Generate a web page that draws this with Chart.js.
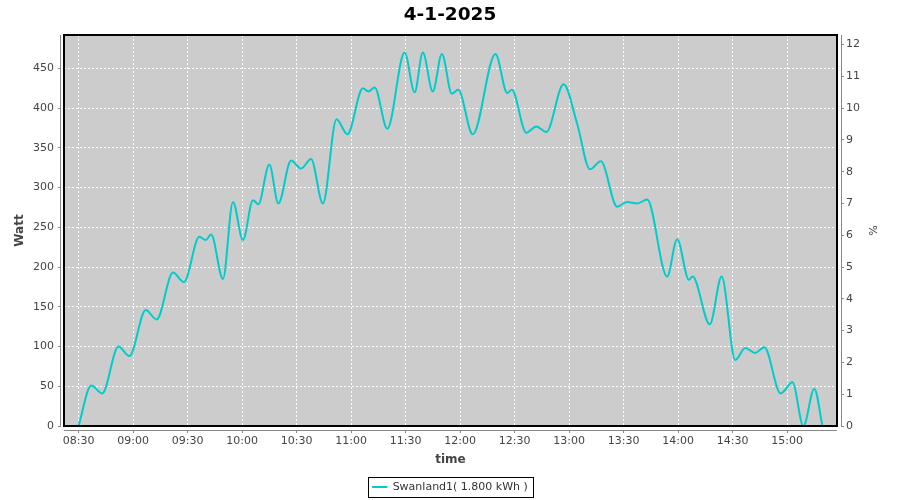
<!DOCTYPE html>
<html>
<head>
<meta charset="utf-8">
<script src="https://cdn.jsdelivr.net/npm/chart.js@4"></script>
<style>
html,body{margin:0;padding:0;background:#ffffff;}
canvas{display:block;}
</style>
</head>
<body>
<canvas id="c" width="900" height="500"></canvas>
<script>
// ---------------- data ----------------
const chartTitle = '4-1-2025';
const seriesName = 'Swanland1( 1.800 kWh )';
const xAxisTitle = 'time';
const yAxisTitle = 'Watt';
const y2AxisTitle = '%';

const times = [
  '08:30:00','08:37:00','08:43:00','08:52:00','08:58:00','09:07:00','09:13:00','09:22:00',
  '09:28:00','09:36:30','09:40:00','09:43:00','09:49:30','09:55:00','10:00:30','10:06:00',
  '10:09:00','10:15:00','10:20:00','10:27:00','10:32:30','10:38:00','10:44:30','10:52:00',
  '10:58:00','11:06:30','11:09:30','11:13:00','11:20:00','11:29:30','11:35:00','11:39:30',
  '11:45:00','11:50:00','11:55:30','11:59:00','12:07:00','12:19:30','12:26:00','12:28:30',
  '12:36:30','12:42:00','12:47:30','12:57:00','13:04:30','13:11:30','13:17:30','13:26:30',
  '13:32:00','13:37:30','13:43:00','13:54:00','13:59:30','14:06:00','14:08:00','14:17:30',
  '14:24:00','14:31:30','14:37:00','14:42:30','14:47:30','14:56:30','15:03:00','15:09:00',
  '15:15:00','15:19:30'
];
const watts = [
  0, 51, 41, 100, 88, 146, 134, 193,
  181, 238, 234, 241, 185, 282, 234, 284,
  279, 329, 280, 334, 324, 336, 280, 386,
  367, 425, 421, 426, 374, 470, 420, 470,
  421, 468, 418, 423, 367, 468, 419, 423,
  369, 377, 370, 430, 380, 323, 333, 276,
  282, 280, 285, 188, 235, 184, 188, 128,
  188, 83, 98, 92, 99, 41, 55, 0,
  47, 0
];

const xRange = ['08:22:00', '15:27:30'];   // visible time span
const xTickStepMin = 30;
const wattMax = 492, wattStep = 50;
const pctMax = 12.3, pctStep = 1;

// ---------------- helpers ----------------
function toMin(s) {
  const p = s.split(':').map(Number);
  return p[0] * 60 + p[1] + (p[2] || 0) / 60;
}
function fmt(m) {
  const h = Math.floor(m / 60), mm = Math.round(m % 60);
  return String(h).padStart(2, '0') + ':' + String(mm).padStart(2, '0');
}
const points = times.map((t, i) => ({ x: toMin(t), y: watts[i] }));

const FONT = 'DejaVu Sans';
const LINE = '#00cccc';
const AXIS = '#888888';
const TXT = '#444444';

const framePlugin = {
  id: 'frame',
  afterLayout(chart) {
    const lg = chart.legend;
    if (lg) { lg.top += 2.5; lg.bottom += 2.5; }
  },
  beforeDraw(chart) {
    const { ctx, chartArea: a } = chart;
    ctx.save();
    ctx.fillStyle = '#cccccc';
    ctx.fillRect(a.left, a.top, a.right - a.left, a.bottom - a.top);
    ctx.restore();
  },
  afterDraw(chart) {
    const { ctx, chartArea: a } = chart;
    const L = Math.round(a.left), R = Math.round(a.right), T = Math.round(a.top), B = Math.round(a.bottom);
    ctx.save();
    // white gaps between axis lines and plot
    ctx.fillStyle = '#ffffff';
    ctx.fillRect(L - 3, T - 1, 2, B - T + 2);
    ctx.fillRect(R + 1, T - 1, 3, B - T + 2);
    ctx.fillRect(L - 1, B + 1, R - L + 2, 3);
    // axis lines
    ctx.fillStyle = AXIS;
    ctx.fillRect(L - 4, T, 1, B - T + 1);
    ctx.fillRect(R + 4, T, 1, B - T + 1);
    ctx.fillRect(L, B + 4, R - L, 1);
    // plot border
    ctx.strokeStyle = '#000000';
    ctx.lineWidth = 2;
    ctx.strokeRect(L, T, R - L, B - T);
    // legend frame
    const lg = chart.legend;
    if (lg && lg.legendHitBoxes && lg.legendHitBoxes.length) {
      const hb = lg.legendHitBoxes[0];
      ctx.lineWidth = 1;
      ctx.strokeStyle = '#000000';
      ctx.strokeRect(Math.round(hb.left - 4) + 0.5, Math.round(hb.top - 5) + 0.5,
                     Math.round(hb.width + 9), Math.round(hb.height + 9));
    }
    ctx.restore();
  }
};

new Chart(document.getElementById('c'), {
  type: 'line',
  data: {
    datasets: [{
      label: seriesName,
      data: points,
      borderColor: LINE,
      backgroundColor: LINE,
      borderWidth: 2,
      pointRadius: 0,
      fill: false,
      cubicInterpolationMode: 'monotone',
      yAxisID: 'y'
    }]
  },
  options: {
    responsive: false,
    animation: false,
    layout: { padding: 0 },
    plugins: {
      title: {
        display: true,
        text: chartTitle,
        color: '#000000',
        font: { family: FONT, size: 18.5, weight: 'bold' },
        padding: { top: 4.5, bottom: 8.3 }
      },
      legend: {
        position: 'bottom',
        labels: {
          color: '#333333',
          font: { family: FONT, size: 11 },
          boxWidth: 15,
          boxHeight: 2,
          padding: 8,
          generateLabels(chart) {
            const items = Chart.defaults.plugins.legend.labels.generateLabels(chart);
            items.forEach(it => { it.lineWidth = 0; it.fillStyle = LINE; it.strokeStyle = LINE; });
            return items;
          }
        }
      },
      tooltip: { enabled: false }
    },
    scales: {
      x: {
        type: 'linear',
        min: toMin(xRange[0]),
        max: toMin(xRange[1]),
        afterFit(s) { s.height = 45; },
        ticks: {
          stepSize: xTickStepMin,
          includeBounds: false,
          autoSkip: false,
          maxRotation: 0,
          padding: 2,
          color: TXT,
          font: { family: FONT, size: 11 },
          callback: v => fmt(v)
        },
        grid: { color: '#ffffff', lineWidth: 1, tickColor: AXIS, tickLength: 7, drawTicks: true },
        border: { display: false, dash: [2, 2] },
        title: { display: true, text: xAxisTitle, color: TXT, font: { family: FONT, size: 12, weight: 'bold' }, padding: { top: 0, bottom: 4 } }
      },
      y: {
        type: 'linear',
        position: 'left',
        min: 0,
        max: wattMax,
        afterFit(s) { s.width = 64; },
        ticks: {
          stepSize: wattStep,
          includeBounds: false,
          padding: 4,
          color: TXT,
          font: { family: FONT, size: 11 }
        },
        grid: { color: '#ffffff', lineWidth: 1, tickColor: AXIS, tickLength: 6, drawTicks: true },
        border: { display: false, dash: [2, 2] },
        title: { display: true, text: yAxisTitle, color: TXT, font: { family: FONT, size: 12, weight: 'bold' }, padding: { top: 13, bottom: 0 } }
      },
      y2: {
        type: 'linear',
        position: 'right',
        min: 0,
        max: pctMax,
        afterFit(s) { s.width = 63; },
        ticks: {
          stepSize: pctStep,
          includeBounds: false,
          padding: 2,
          color: TXT,
          font: { family: FONT, size: 11 }
        },
        grid: { drawOnChartArea: false, tickColor: AXIS, tickLength: 7, drawTicks: true },
        border: { display: false },
        title: { display: true, text: y2AxisTitle, color: TXT, font: { family: FONT, size: 11 }, padding: { top: 22, bottom: 0 } }
      }
    }
  },
  plugins: [framePlugin]
});
</script>
</body>
</html>
